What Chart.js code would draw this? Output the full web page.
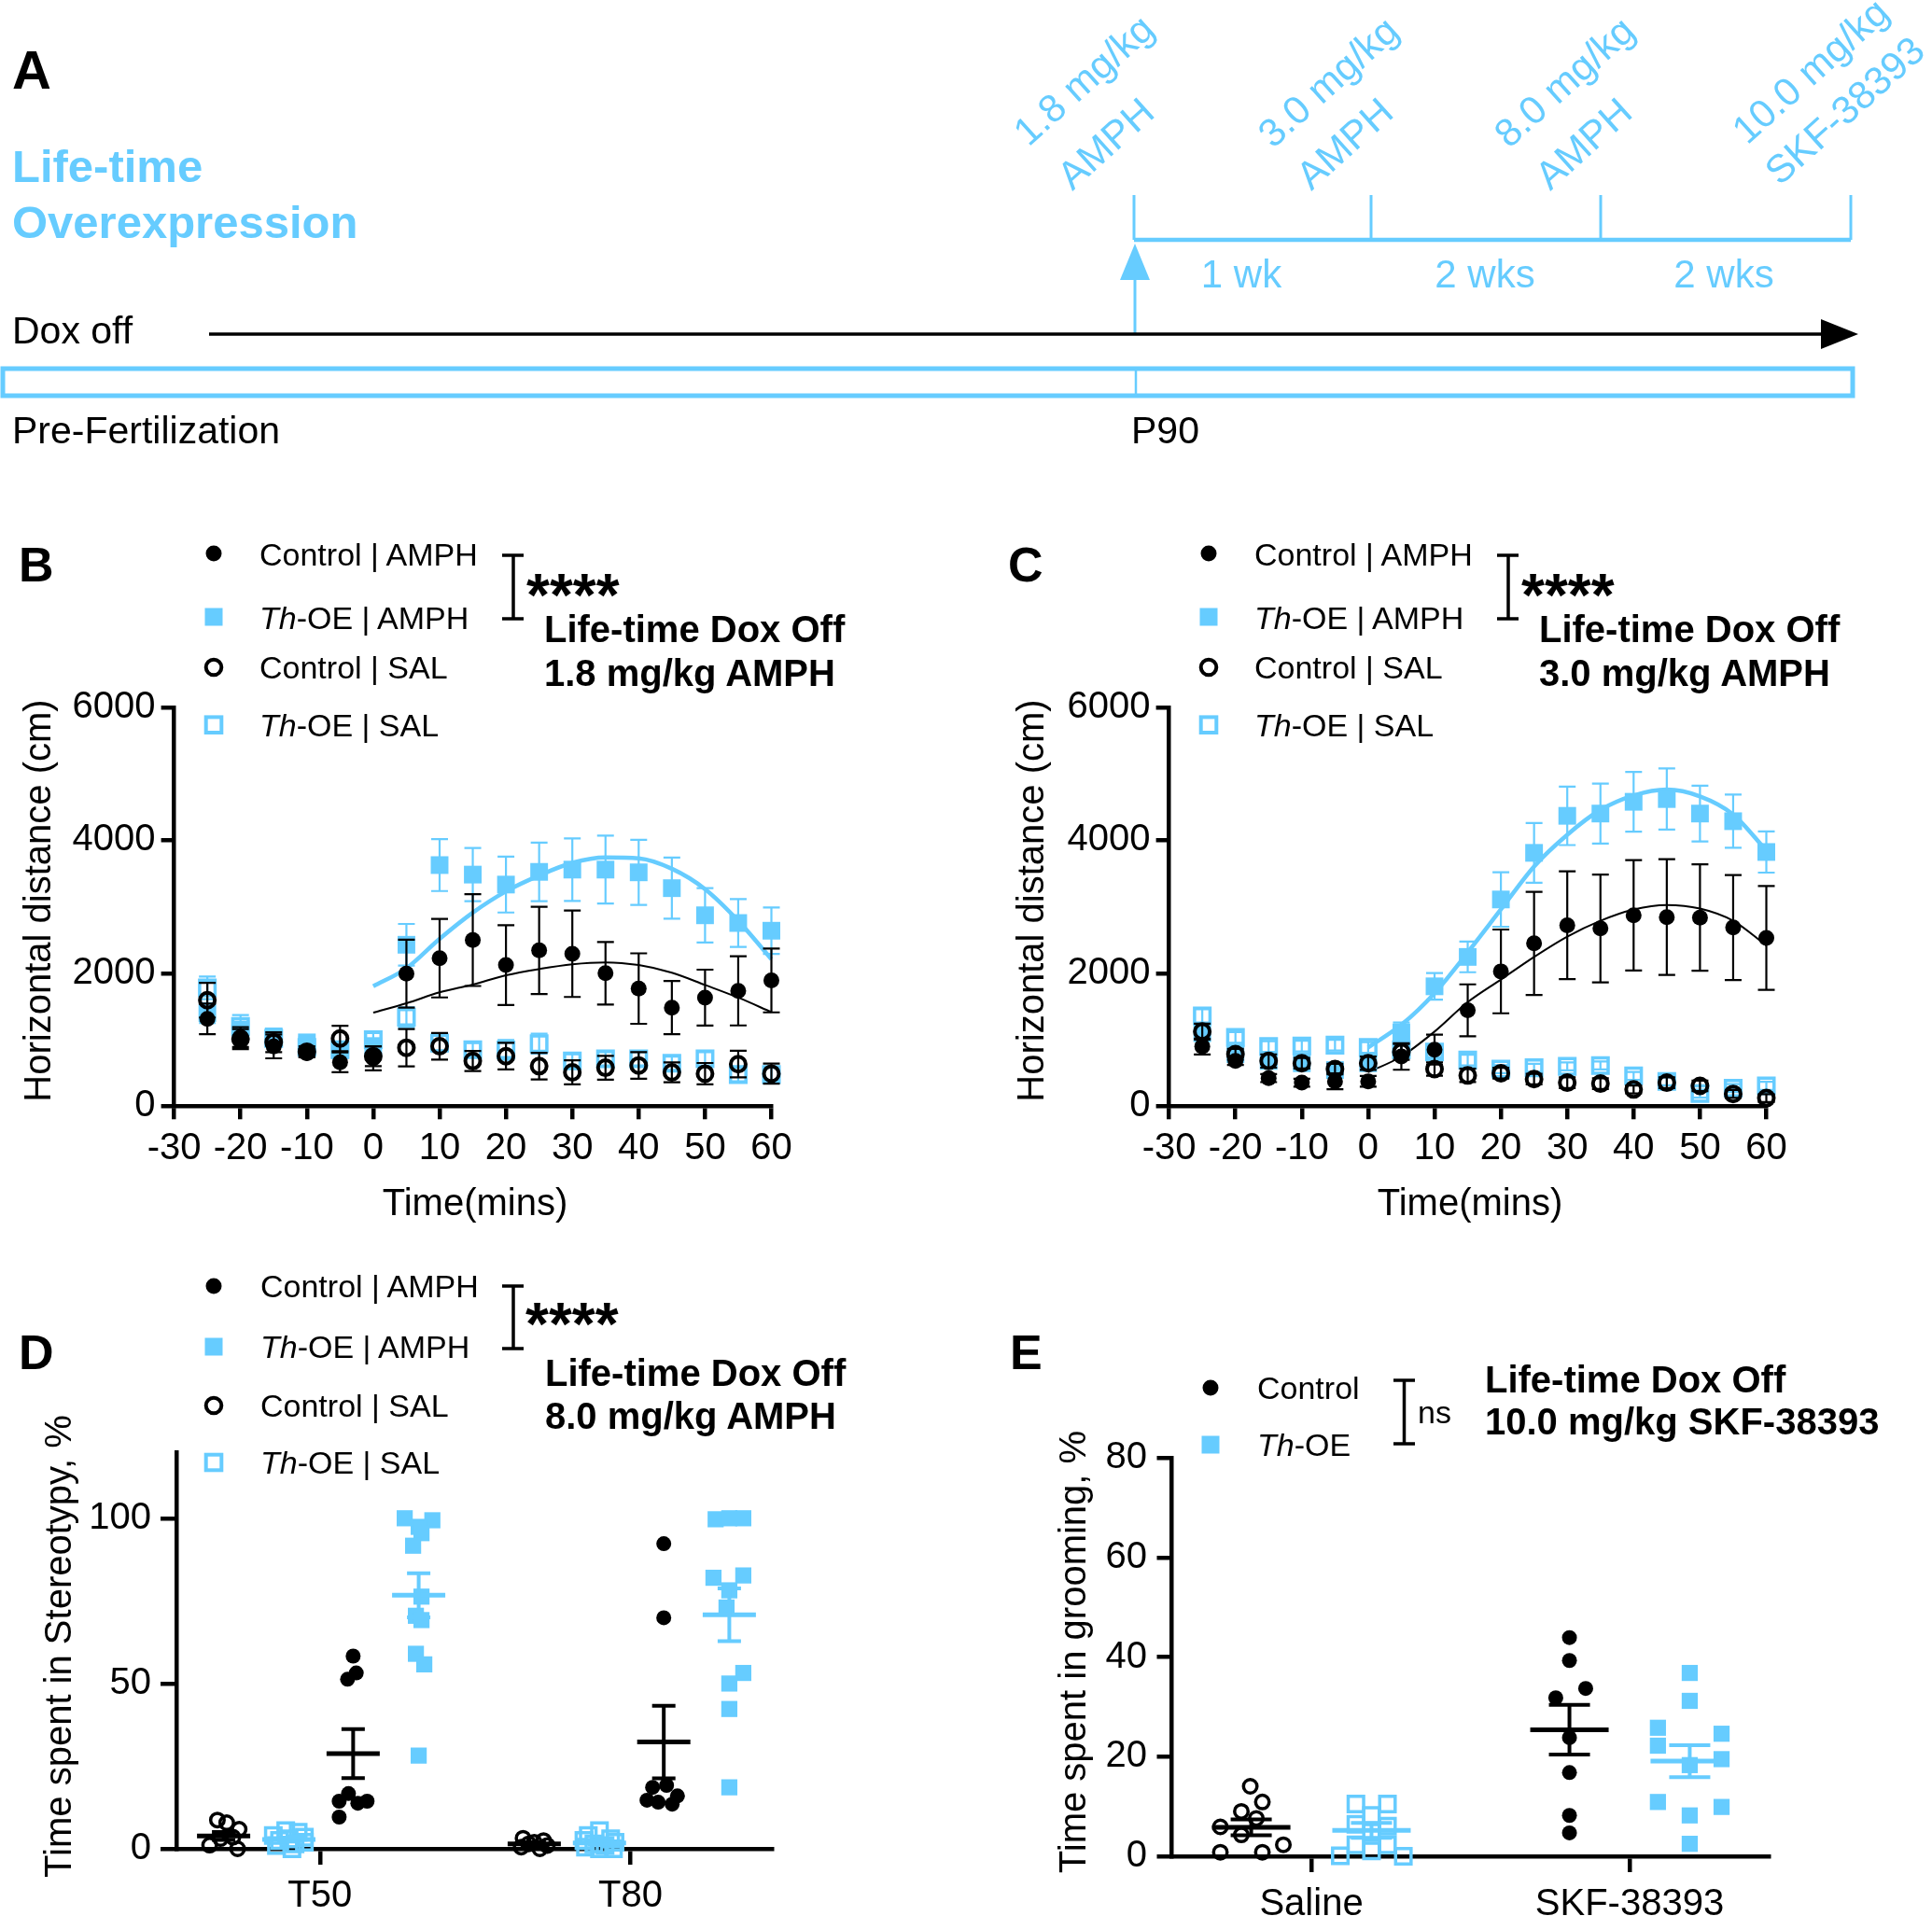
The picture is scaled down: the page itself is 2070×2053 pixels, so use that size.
<!DOCTYPE html>
<html>
<head>
<meta charset="utf-8">
<script src="https://cdn.jsdelivr.net/npm/chart.js@4.4.1/dist/chart.umd.min.js"></script>
<style>
  html, body { margin: 0; padding: 0; background: #fff; }
  #fig { position: relative; width: 2070px; height: 2053px; overflow: hidden; background: #fff; }
  canvas { position: absolute; }
  svg { position: absolute; left: 0; top: 0; }
</style>
</head>
<body>
<div id="fig">
  <canvas id="cB" width="880" height="600" style="left:0px;top:700px"></canvas>
  <canvas id="cC" width="880" height="600" style="left:1066px;top:700px"></canvas>
  <canvas id="cD" width="880" height="533" style="left:0px;top:1520px"></canvas>
  <canvas id="cE" width="880" height="533" style="left:1100px;top:1520px"></canvas>

  <svg width="2070" height="2053" style="font-family:'Liberation Sans', Arial, sans-serif">
    <!-- panel A: timeline -->
    <text x="13" y="95" font-size="58" font-weight="bold">A</text>
    <text x="13" y="195" font-size="49" font-weight="bold" fill="#66CCFF">Life-time</text>
    <text x="13" y="255" font-size="49" font-weight="bold" fill="#66CCFF">Overexpression</text>
    <g fill="#66CCFF" font-size="42">
      <text transform="translate(1102,158) rotate(-42)">1.8 mg/kg</text>
      <text transform="translate(1149,205) rotate(-42)">AMPH</text>
      <text transform="translate(1364,160) rotate(-42)">3.0 mg/kg</text>
      <text transform="translate(1405,205) rotate(-42)">AMPH</text>
      <text transform="translate(1617,160) rotate(-42)">8.0 mg/kg</text>
      <text transform="translate(1661,205) rotate(-42)">AMPH</text>
      <text transform="translate(1872,156) rotate(-42)">10.0 mg/kg</text>
      <text transform="translate(1907,200) rotate(-42)">SKF-38393</text>
      <text x="1330" y="308" text-anchor="middle">1 wk</text>
      <text x="1591" y="308" text-anchor="middle">2 wks</text>
      <text x="1847" y="308" text-anchor="middle">2 wks</text>
    </g>
    <g stroke="#66CCFF" fill="none">
      <line x1="1215" y1="257" x2="1983" y2="257" stroke-width="4.5"/>
      <line x1="1215" y1="209" x2="1215" y2="257" stroke-width="3"/>
      <line x1="1469" y1="209" x2="1469" y2="257" stroke-width="3"/>
      <line x1="1715" y1="209" x2="1715" y2="257" stroke-width="3"/>
      <line x1="1983" y1="209" x2="1983" y2="257" stroke-width="3"/>
      <line x1="1216" y1="358" x2="1216" y2="295" stroke-width="3"/>
      <rect x="3" y="395" width="1982" height="29" stroke-width="5"/>
      <line x1="1217" y1="395" x2="1217" y2="424" stroke-width="2.5"/>
    </g>
    <polygon points="1216,261 1200,300 1232,300" fill="#66CCFF"/>
    <line x1="224" y1="358" x2="1955" y2="358" stroke="#000" stroke-width="3.5"/>
    <polygon points="1991,358 1951,342 1951,374" fill="#000"/>
    <g font-size="41">
      <text x="13" y="368">Dox off</text>
      <text x="13" y="475">Pre-Fertilization</text>
      <text x="1212" y="475">P90</text>
    </g>

    <!-- panel B annotations -->
    <g>
      <text x="20" y="623" font-size="52" font-weight="bold">B</text>
      <circle cx="229" cy="593" r="8.5" fill="#000"/>
      <rect x="219.5" y="651.5" width="19" height="19" fill="#66CCFF"/>
      <circle cx="229" cy="715" r="8.3" fill="none" stroke="#000" stroke-width="4"/>
      <rect x="220.7" y="768.4" width="16.6" height="16.6" fill="none" stroke="#66CCFF" stroke-width="4"/>
      <g font-size="34">
        <text x="278" y="606">Control | AMPH</text>
        <text x="278" y="674"><tspan font-style="italic">Th</tspan>-OE | AMPH</text>
        <text x="278" y="727">Control | SAL</text>
        <text x="278" y="789"><tspan font-style="italic">Th</tspan>-OE | SAL</text>
      </g>
      <path d="M538 595H561M550 595V663M538 663H561" stroke="#000" stroke-width="3.5" fill="none"/>
      <text x="564" y="660" font-size="64" font-weight="bold">****</text>
      <text x="583" y="688" font-size="40" font-weight="bold">Life-time Dox Off</text>
      <text x="583" y="735" font-size="40" font-weight="bold">1.8 mg/kg AMPH</text>
      <text transform="translate(54,965) rotate(-90)" text-anchor="middle" font-size="40">Horizontal distance (cm)</text>
      <text x="509" y="1302" text-anchor="middle" font-size="40">Time(mins)</text>
    </g>

    <!-- panel C annotations -->
    <g transform="translate(1066,0)">
      <text x="14" y="623" font-size="52" font-weight="bold">C</text>
      <circle cx="229" cy="593" r="8.5" fill="#000"/>
      <rect x="219.5" y="651.5" width="19" height="19" fill="#66CCFF"/>
      <circle cx="229" cy="715" r="8.3" fill="none" stroke="#000" stroke-width="4"/>
      <rect x="220.7" y="768.4" width="16.6" height="16.6" fill="none" stroke="#66CCFF" stroke-width="4"/>
      <g font-size="34">
        <text x="278" y="606">Control | AMPH</text>
        <text x="278" y="674"><tspan font-style="italic">Th</tspan>-OE | AMPH</text>
        <text x="278" y="727">Control | SAL</text>
        <text x="278" y="789"><tspan font-style="italic">Th</tspan>-OE | SAL</text>
      </g>
      <path d="M538 595H561M550 595V663M538 663H561" stroke="#000" stroke-width="3.5" fill="none"/>
      <text x="564" y="660" font-size="64" font-weight="bold">****</text>
      <text x="583" y="688" font-size="40" font-weight="bold">Life-time Dox Off</text>
      <text x="583" y="735" font-size="40" font-weight="bold">3.0 mg/kg AMPH</text>
      <text transform="translate(52,965) rotate(-90)" text-anchor="middle" font-size="40">Horizontal distance (cm)</text>
      <text x="509" y="1302" text-anchor="middle" font-size="40">Time(mins)</text>
    </g>

    <!-- panel D annotations -->
    <g>
      <text x="20" y="1467" font-size="52" font-weight="bold">D</text>
      <circle cx="229" cy="1378" r="8.5" fill="#000"/>
      <rect x="219.5" y="1433.5" width="19" height="19" fill="#66CCFF"/>
      <circle cx="229" cy="1506" r="8.3" fill="none" stroke="#000" stroke-width="4"/>
      <rect x="220.7" y="1558.7" width="16.6" height="16.6" fill="none" stroke="#66CCFF" stroke-width="4"/>
      <g font-size="34">
        <text x="279" y="1390">Control | AMPH</text>
        <text x="279" y="1455"><tspan font-style="italic">Th</tspan>-OE | AMPH</text>
        <text x="279" y="1518">Control | SAL</text>
        <text x="279" y="1579"><tspan font-style="italic">Th</tspan>-OE | SAL</text>
      </g>
      <path d="M538 1378H561M550 1378V1445M538 1445H561" stroke="#000" stroke-width="3.5" fill="none"/>
      <text x="563" y="1441" font-size="64" font-weight="bold">****</text>
      <text x="584" y="1485" font-size="40" font-weight="bold">Life-time Dox Off</text>
      <text x="584" y="1531" font-size="40" font-weight="bold">8.0 mg/kg AMPH</text>
      <text transform="translate(76,1764) rotate(-90)" text-anchor="middle" font-size="40">Time spent in Stereotypy, %</text>
    </g>

    <!-- panel E annotations -->
    <g>
      <text x="1082" y="1467" font-size="52" font-weight="bold">E</text>
      <circle cx="1297" cy="1487" r="8.5" fill="#000"/>
      <rect x="1287.5" y="1538.5" width="19" height="19" fill="#66CCFF"/>
      <g font-size="34">
        <text x="1347" y="1499">Control</text>
        <text x="1347" y="1560"><tspan font-style="italic">Th</tspan>-OE</text>
        <text x="1519" y="1525">ns</text>
      </g>
      <path d="M1493 1479H1516M1504.5 1479V1547M1493 1547H1516" stroke="#000" stroke-width="3.5" fill="none"/>
      <text x="1591" y="1492" font-size="40" font-weight="bold">Life-time Dox Off</text>
      <text x="1591" y="1537" font-size="40" font-weight="bold">10.0 mg/kg SKF-38393</text>
      <text transform="translate(1163,1770) rotate(-90)" text-anchor="middle" font-size="40">Time spent in grooming, %</text>
    </g>
  </svg>
</div>

<script>
// ---- data: panels B and C (horizontal distance, cm) ----
const timeX = [-25, -20, -15, -10, -5, 0, 5, 10, 15, 20, 25, 30, 35, 40, 45, 50, 55, 60];
const fitX = [0, 5, 10, 15, 20, 25, 30, 35, 40, 45, 50, 55, 60];
const timeTicks = [-30, -20, -10, 0, 10, 20, 30, 40, 50, 60];
const distTicks = [0, 2000, 4000, 6000];

// 1.8 mg/kg
const ctrlAmphB = [1314, 1040, 900, 800, 660, 720, 1993, 2226, 2498, 2123, 2343, 2293, 2000, 1769, 1483, 1633, 1735, 1891];
const ctrlAmphBSem = [230, 150, 180, 60, 150, 180, 510, 590, 690, 600, 655, 650, 470, 530, 400, 420, 520, 480];
const thAmphB = [1400, 1150, 1050, 960, 850, 900, 2428, 3626, 3483, 3333, 3524, 3558, 3558, 3517, 3279, 2871, 2755, 2639];
const thAmphBSem = [150, 120, 100, 80, 100, 120, 313, 390, 400, 420, 440, 470, 510, 490, 460, 410, 360, 350];
const ctrlSalB = [1594, 1010, 963, 820, 1019, 752, 879, 902, 680, 752, 603, 510, 578, 612, 510, 490, 633, 490];
const ctrlSalBSem = [260, 150, 150, 80, 190, 150, 280, 200, 150, 200, 200, 180, 180, 200, 150, 160, 200, 150];
const thSalB = [1780, 1200, 1020, 884, 850, 1000, 1337, 950, 850, 846, 940, 680, 714, 714, 646, 714, 476, 476];
const thSalBSem = [170, 170, 100, 100, 120, 100, 150, 120, 100, 150, 150, 100, 100, 100, 100, 100, 100, 100];
const fitThB = [1803, 2075, 2517, 2912, 3231, 3469, 3660, 3741, 3728, 3571, 3265, 2789, 2211];
const fitCtrlB = [1408, 1548, 1712, 1830, 1969, 2063, 2135, 2163, 2122, 2007, 1823, 1633, 1415];

// 3.0 mg/kg
const ctrlAmphC = [898, 680, 422, 354, 374, 374, 748, 850, 1442, 2027, 2449, 2721, 2673, 2871, 2844, 2837, 2687, 2531];
const ctrlAmphCSem = [120, 60, 60, 60, 120, 80, 200, 225, 390, 630, 775, 810, 810, 830, 870, 800, 790, 780];
const thAmphC = [1100, 782, 680, 646, 544, 646, 1109, 1803, 2245, 3109, 3810, 4367, 4401, 4578, 4619, 4401, 4286, 3823];
const thAmphCSem = [120, 100, 80, 80, 80, 80, 150, 200, 230, 410, 450, 440, 450, 450, 460, 420, 400, 310];
const ctrlSalC = [1122, 782, 680, 646, 558, 646, 816, 558, 463, 497, 408, 354, 340, 252, 354, 306, 184, 122];
const ctrlSalCSem = [120, 80, 100, 80, 80, 100, 120, 100, 100, 80, 80, 80, 80, 60, 80, 80, 60, 60];
const thSalC = [1360, 1034, 898, 905, 918, 884, 850, 816, 694, 558, 578, 599, 612, 456, 374, 190, 272, 306];
const thSalCSem = [100, 80, 80, 80, 80, 80, 80, 80, 80, 60, 60, 60, 60, 60, 60, 60, 60, 60];
const fitThC = [884, 1224, 1700, 2313, 2959, 3605, 4082, 4456, 4673, 4762, 4660, 4388, 3844];
const fitCtrlC = [510, 748, 1122, 1565, 1905, 2245, 2551, 2789, 2959, 3027, 2973, 2789, 2415];

// ---- data: panel D (stereotypy, %) ----
const stereoCats = ['T50', 'T80'];
const stereoTicks = [0, 50, 100];
// group offsets from category: Control|SAL, Th-OE|SAL, Control|AMPH, Th-OE|AMPH
const stereoOffsets = [-0.31, -0.1, 0.107, 0.318];
const ctrlSalT50 = [8.7, 7.9, 5.9, 3.5, 3.1, 1.1, 0];
const ctrlSalT50Jit = [-0.02, 0.01, 0.05, 0.03, -0.01, -0.045, 0.045];
const thSalT50 = [5.5, 5, 4, 3.5, 3, 2.5, 2, 1.5, 1, 0];
const thSalT50Jit = [-0.01, 0.03, -0.05, 0.05, 0, -0.03, 0.05, 0.02, -0.04, 0.01];
const ctrlAmphT50 = [58.3, 53.2, 51.3, 16.7, 14.4, 13.8, 14.4, 9.6];
const ctrlAmphT50Jit = [0, 0.01, -0.018, -0.015, -0.045, 0.015, 0.045, -0.045];
const thAmphT50 = [100, 99.4, 97.4, 95.5, 91.7, 76.3, 70.5, 69.2, 59, 55.8, 28.2];
const thAmphT50Jit = [-0.045, 0.044, 0, 0.009, -0.018, 0.009, -0.009, 0.009, -0.009, 0.018, 0];
const ctrlSalT80 = [3.2, 2.5, 2, 1.5, 1, 0.5, 0];
const ctrlSalT80Jit = [-0.036, 0.03, 0, -0.018, 0.042, -0.042, 0.018];
const thSalT80 = [5.5, 4, 3, 2.5, 2, 1.5, 1, 0.5, 0, 0];
const thSalT80Jit = [0, -0.036, 0.036, -0.05, 0.05, -0.018, 0.018, -0.045, 0.045, 0];
const ctrlAmphT80 = [92.3, 69.9, 18.6, 19.2, 16, 14.7, 13.5, 14.1];
const ctrlAmphT80Jit = [0, 0, -0.036, 0.009, 0.044, -0.054, 0.027, -0.018];
const thAmphT80 = [99.7, 100, 100, 82, 82.7, 78.2, 73, 53.2, 50, 42.3, 18.6];
const thAmphT80Jit = [-0.044, 0, 0.045, -0.051, 0.045, 0, -0.009, 0.045, 0, 0, 0];
// mean and SEM, [T50, T80]
const ctrlSalStMean = [3.9, 1.5], ctrlSalStSem = [1.2, 0.5];
const thSalStMean = [2.8, 1.8], thSalStSem = [0.6, 0.6];
const ctrlAmphStMean = [28.8, 32.3], ctrlAmphStSem = [7.4, 11];
const thAmphStMean = [76.7, 70.8], thAmphStSem = [6.7, 8];

// ---- data: panel E (grooming, %) ----
const groomCats = ['Saline', 'SKF-38393'];
const groomTicks = [0, 20, 40, 60, 80];
const groomOffsets = [-0.189, 0.189]; // Control, Th-OE
const ctrlSaline = [14.05, 10.9, 9.0, 7.6, 5.9, 4.3, 2.3, 0.8, 0.8];
const ctrlSalineJit = [-0.003, 0.035, -0.031, 0.016, -0.097, -0.031, 0.101, -0.097, 0.035];
const thSaline = [10.5, 10.5, 8.2, 6.4, 6.05, 4.8, 2.3, 2.3, 1.07, 0.1, 0];
const thSalineJit = [-0.049, 0.05, 0, -0.049, 0.05, 0, -0.049, 0.05, 0, -0.098, 0.1];
const ctrlSkf = [43.9, 39.3, 33.7, 31.8, 23.8, 16.8, 8.2, 4.7];
const ctrlSkfJit = [0, 0, 0.051, -0.043, 0, 0, 0, 0];
const thSkf = [36.8, 31.2, 25.8, 24.6, 22.2, 19.5, 18.3, 10.9, 9.9, 8.2, 2.5];
const thSkfJit = [0, 0, -0.1, 0.1, -0.1, 0.1, 0, -0.1, 0.1, 0, 0];
const ctrlGroomMean = [5.8, 25.4], ctrlGroomSem = [1.6, 5];
const thGroomMean = [5.2, 19.1], thGroomSem = [1.5, 3.2];

// ---- drawing ----
const BLUE = '#66CCFF';
const FONT = "'Liberation Sans', Arial, sans-serif";
Chart.defaults.font.family = FONT;
Chart.defaults.color = '#000';

function pts(xs, ys) {
  return xs.map((x, i) => ({ x: x, y: ys[i] }));
}

function groupPts(cat, offset, jit, vals) {
  return vals.map((v, i) => ({ x: cat + offset + jit[i], y: v }));
}

// SEM whiskers drawn just under each dataset's own markers
const errorBars = {
  id: 'errorBars',
  beforeDatasetDraw(chart, args) {
    const ds = chart.data.datasets[args.index];
    if (!ds.errors) return;
    const xs = chart.scales.x, ys = chart.scales.y, ctx = chart.ctx;
    ctx.save();
    ctx.strokeStyle = ds.errColor;
    ctx.lineWidth = 2.2;
    ds.data.forEach((p, i) => {
      const e = ds.errors[i];
      const px = xs.getPixelForValue(p.x);
      const t = ys.getPixelForValue(p.y + e);
      const b = ys.getPixelForValue(Math.max(p.y - e, 0));
      ctx.beginPath();
      ctx.moveTo(px, t); ctx.lineTo(px, b);
      ctx.moveTo(px - 9, t); ctx.lineTo(px + 9, t);
      ctx.moveTo(px - 9, b); ctx.lineTo(px + 9, b);
      ctx.stroke();
    });
    ctx.restore();
  }
};

function meanSem(groups, meanHalf, capHalf) {
  return {
    id: 'meanSem',
    afterDatasetsDraw(chart) {
      const xs = chart.scales.x, ys = chart.scales.y, ctx = chart.ctx;
      groups.forEach(g => {
        g.mean.forEach((m, i) => {
          const cx = xs.getPixelForValue(i + 1 + g.offset);
          const my = ys.getPixelForValue(m);
          const t = ys.getPixelForValue(m + g.sem[i]);
          const b = ys.getPixelForValue(m - g.sem[i]);
          ctx.save();
          ctx.strokeStyle = g.color;
          ctx.lineWidth = 5;
          ctx.beginPath(); ctx.moveTo(cx - meanHalf, my); ctx.lineTo(cx + meanHalf, my); ctx.stroke();
          ctx.lineWidth = 4;
          ctx.beginPath();
          ctx.moveTo(cx, t); ctx.lineTo(cx, b);
          ctx.moveTo(cx - capHalf, t); ctx.lineTo(cx + capHalf, t);
          ctx.moveTo(cx - capHalf, b); ctx.lineTo(cx + capHalf, b);
          ctx.stroke();
          ctx.restore();
        });
      });
    }
  };
}

function axis(opts) {
  return {
    type: 'linear',
    min: opts.min, max: opts.max,
    afterBuildTicks: s => { s.ticks = opts.ticks.map(v => ({ value: v })); },
    afterFit: s => { if (opts.width !== undefined) s.width = opts.width; if (opts.height !== undefined) s.height = opts.height; },
    ticks: {
      font: { size: 40 }, color: '#000', padding: opts.pad,
      autoSkip: false, maxRotation: 0, minRotation: 0,
      callback: opts.labels ? (v => opts.labels[Math.round(v) - 1]) : (v => String(v))
    },
    grid: { display: true, drawOnChartArea: false, drawTicks: true, tickLength: opts.tl, tickWidth: 4.5, tickColor: '#000', color: '#000', lineWidth: 4.5 },
    border: { display: true, color: '#000', width: 4.5 }
  };
}

function baseOptions(padTop, padRight, x, y) {
  return {
    responsive: false, animation: false, devicePixelRatio: 1, events: [],
    layout: { autoPadding: false, padding: { top: padTop, right: padRight, left: 0, bottom: 0 } },
    plugins: { legend: { display: false }, tooltip: { enabled: false } },
    scales: { x: x, y: y }
  };
}

function timeChart(id, s) {
  const datasets = [
    { data: pts(fitX, s.fitTh), showLine: true, borderColor: BLUE, borderWidth: 4.5, pointRadius: 0, cubicInterpolationMode: 'monotone', order: 10, clip: false },
    { data: pts(fitX, s.fitCtrl), showLine: true, borderColor: '#000', borderWidth: 2, pointRadius: 0, cubicInterpolationMode: 'monotone', order: 9, clip: false },
    { data: pts(timeX, s.thSal), errors: s.thSalSem, errColor: BLUE, pointStyle: 'rect', pointRadius: 11.7, pointBorderWidth: 3.5, pointBorderColor: BLUE, pointBackgroundColor: 'rgba(0,0,0,0)', order: 8, clip: false },
    { data: pts(timeX, s.thAmph), errors: s.thAmphSem, errColor: BLUE, pointStyle: 'rect', pointRadius: 13.4, pointBorderWidth: 0, pointBackgroundColor: BLUE, order: 7, clip: false },
    { data: pts(timeX, s.ctrlSal), errors: s.ctrlSalSem, errColor: '#000', pointStyle: 'circle', pointRadius: 8, pointBorderWidth: 4, pointBorderColor: '#000', pointBackgroundColor: 'rgba(0,0,0,0)', order: 6, clip: false },
    { data: pts(timeX, s.ctrlAmph), errors: s.ctrlAmphSem, errColor: '#000', pointStyle: 'circle', pointRadius: 8.5, pointBorderWidth: 0, pointBackgroundColor: '#000', order: 5, clip: false }
  ];
  return new Chart(document.getElementById(id), {
    type: 'scatter',
    data: { datasets: datasets },
    options: baseOptions(57.8, 53.5,
      axis({ min: -30, max: 60, ticks: timeTicks, tl: 14, pad: 8, height: 114.7 }),
      axis({ min: 0, max: 6000, ticks: distTicks, tl: 14, pad: 6, width: 186.6 })),
    plugins: [errorBars]
  });
}

timeChart('cB', {
  fitTh: fitThB, fitCtrl: fitCtrlB,
  thSal: thSalB, thSalSem: thSalBSem, thAmph: thAmphB, thAmphSem: thAmphBSem,
  ctrlSal: ctrlSalB, ctrlSalSem: ctrlSalBSem, ctrlAmph: ctrlAmphB, ctrlAmphSem: ctrlAmphBSem
});
timeChart('cC', {
  fitTh: fitThC, fitCtrl: fitCtrlC,
  thSal: thSalC, thSalSem: thSalCSem, thAmph: thAmphC, thAmphSem: thAmphCSem,
  ctrlSal: ctrlSalC, ctrlSalSem: ctrlSalCSem, ctrlAmph: ctrlAmphC, ctrlAmphSem: ctrlAmphCSem
});

const openCircle = { pointStyle: 'circle', pointRadius: 7.25, pointBorderWidth: 3.5, pointBorderColor: '#000', pointBackgroundColor: 'rgba(0,0,0,0)', clip: false };
const openSquare = { pointStyle: 'rect', pointRadius: 11.7, pointBorderWidth: 3.5, pointBorderColor: BLUE, pointBackgroundColor: 'rgba(0,0,0,0)', clip: false };
const fillCircle = { pointStyle: 'circle', pointRadius: 8, pointBorderWidth: 0, pointBackgroundColor: '#000', clip: false };
const fillSquare = { pointStyle: 'rect', pointRadius: 12.2, pointBorderWidth: 0, pointBackgroundColor: BLUE, clip: false };

// panel D
new Chart(document.getElementById('cD'), {
  type: 'scatter',
  data: {
    datasets: [
      Object.assign({ data: groupPts(1, stereoOffsets[0], ctrlSalT50Jit, ctrlSalT50).concat(groupPts(2, stereoOffsets[0], ctrlSalT80Jit, ctrlSalT80)) }, openCircle),
      Object.assign({ data: groupPts(1, stereoOffsets[1], thSalT50Jit, thSalT50).concat(groupPts(2, stereoOffsets[1], thSalT80Jit, thSalT80)) }, openSquare),
      Object.assign({ data: groupPts(1, stereoOffsets[2], ctrlAmphT50Jit, ctrlAmphT50).concat(groupPts(2, stereoOffsets[2], ctrlAmphT80Jit, ctrlAmphT80)) }, fillCircle),
      Object.assign({ data: groupPts(1, stereoOffsets[3], thAmphT50Jit, thAmphT50).concat(groupPts(2, stereoOffsets[3], thAmphT80Jit, thAmphT80)) }, fillSquare)
    ]
  },
  options: baseOptions(36, 53,
    axis({ min: 0.538, max: 2.455, ticks: [1, 2], labels: stereoCats, tl: 17, pad: 10, height: 72 }),
    axis({ min: 0, max: 120, ticks: stereoTicks, tl: 17, pad: 10, width: 189 })),
  plugins: [meanSem([
    { offset: stereoOffsets[0], mean: ctrlSalStMean, sem: ctrlSalStSem, color: '#000' },
    { offset: stereoOffsets[1], mean: thSalStMean, sem: thSalStSem, color: BLUE },
    { offset: stereoOffsets[2], mean: ctrlAmphStMean, sem: ctrlAmphStSem, color: '#000' },
    { offset: stereoOffsets[3], mean: thAmphStMean, sem: thAmphStSem, color: BLUE }
  ], 28.5, 12.5)]
});

// panel E
new Chart(document.getElementById('cE'), {
  type: 'scatter',
  data: {
    datasets: [
      Object.assign({ data: groupPts(1, groomOffsets[0], ctrlSalineJit, ctrlSaline) }, openCircle),
      Object.assign({ data: groupPts(1, groomOffsets[1], thSalineJit, thSaline) }, openSquare),
      Object.assign({ data: groupPts(2, groomOffsets[0], ctrlSkfJit, ctrlSkf) }, fillCircle),
      Object.assign({ data: groupPts(2, groomOffsets[1], thSkfJit, thSkf) }, fillSquare)
    ]
  },
  options: baseOptions(42, 85,
    axis({ min: 0.56, max: 2.437, ticks: [1, 2], labels: groomCats, tl: 17, pad: 11, height: 64 }),
    axis({ min: 0, max: 80, ticks: groomTicks, tl: 15.5, pad: 10.5, width: 155 })),
  plugins: [meanSem([
    { offset: groomOffsets[0], mean: ctrlGroomMean, sem: ctrlGroomSem, color: '#000' },
    { offset: groomOffsets[1], mean: thGroomMean, sem: thGroomSem, color: BLUE }
  ], 42, 22)]
});
</script>
</body>
</html>
